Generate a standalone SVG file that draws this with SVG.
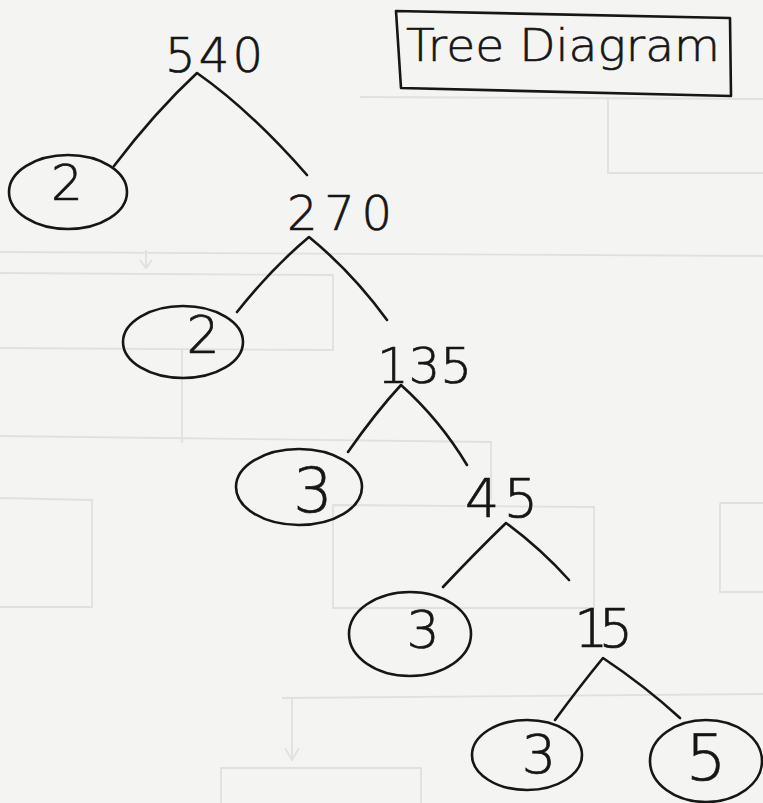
<svg xmlns="http://www.w3.org/2000/svg" width="763" height="803" viewBox="0 0 763 803">
  <style>
    .ink { fill: none; stroke: #161616; stroke-width: 2.6; stroke-linecap: round; stroke-linejoin: round; }
    .ghost { fill: none; stroke: #e0e0de; stroke-width: 1.8; }
    .num { font-family: "DejaVu Sans", "Liberation Sans", sans-serif; font-weight: 200; fill: #161616; stroke: #161616; stroke-width: 0.7; }
    .title { font-family: "DejaVu Sans", "Liberation Sans", sans-serif; font-weight: 200; fill: #161616; stroke: #161616; stroke-width: 0.6; font-size: 44px; }
  </style>

  <!-- paper -->
  <rect x="0" y="0" width="763" height="803" fill="#f4f4f2"/>

  <!-- faint lines showing through from the reverse side of the sheet -->
  <g id="paper-show-through" class="ghost">
    <path d="M360 97 L763 99"/>
    <path d="M608 97 L608 173 L763 173"/>
    <path d="M0 252 L763 256"/>
    <path d="M146 250 L146 268 M140 260 L146 268 L152 260"/>
    <path d="M0 273 L333 275 L333 350 L0 348"/>
    <path d="M182 350 L182 443"/>
    <path d="M0 436 L491 442 L491 500"/>
    <path d="M0 498 L92 500 L92 607 L0 607"/>
    <path d="M333 505 L594 507 L594 608 L333 608 Z"/>
    <path d="M720 503 L763 503 M720 503 L720 592 L763 592"/>
    <path d="M282 698 L763 694"/>
    <path d="M292 698 L292 760 M285 748 L292 760 L299 748"/>
    <path d="M221 803 L221 768 L421 768 L421 803"/>
  </g>

  <!-- title box -->
  <g id="title">
    <path class="ink" d="M396 11 L730 18 L731 96 L401 88 Z"/>
    <text class="title" x="406" y="61" textLength="314" lengthAdjust="spacingAndGlyphs">Tree Diagram</text>
  </g>

  <!-- branches -->
  <g id="connectors" class="ink">
    <path d="M114 166 Q155 112 197 73 Q250 110 307 175"/>
    <path d="M237 312 Q272 268 309 237 Q352 272 387 320"/>
    <path d="M348 452 Q376 412 401 385 Q440 420 467 465"/>
    <path d="M443 587 Q476 552 506 523 Q540 548 569 580"/>
    <path d="M555 720 Q580 686 603 658 Q645 686 680 718"/>
  </g>

  <!-- composite nodes -->
  <g id="n540"><text class="num" x="165" y="72" font-size="48" textLength="98" lengthAdjust="spacing">540</text></g>
  <g id="n270"><text class="num" x="287" y="230" font-size="48" textLength="105" lengthAdjust="spacing">270</text></g>
  <g id="n135"><text class="num" x="377" y="383" font-size="50" textLength="95" lengthAdjust="spacing">135</text></g>
  <g id="n45"><text class="num" x="465" y="517" font-size="54" textLength="73" lengthAdjust="spacing">45</text></g>
  <g id="n15"><text class="num" x="574" y="647" font-size="54" textLength="59" lengthAdjust="spacing">15</text></g>

  <!-- circled prime factors -->
  <g id="p2a">
    <ellipse class="ink" cx="68" cy="192" rx="59" ry="37"/>
    <text class="num" x="67" y="200" font-size="50" text-anchor="middle">2</text>
  </g>
  <g id="p2b">
    <ellipse class="ink" cx="183" cy="342" rx="60" ry="36"/>
    <text class="num" x="203" y="353" font-size="52" text-anchor="middle">2</text>
  </g>
  <g id="p3a">
    <ellipse class="ink" cx="299" cy="487" rx="63" ry="38"/>
    <text class="num" x="313" y="512" font-size="62" text-anchor="middle">3</text>
  </g>
  <g id="p3b">
    <ellipse class="ink" cx="410" cy="634" rx="61" ry="42"/>
    <text class="num" x="423" y="648" font-size="52" text-anchor="middle">3</text>
  </g>
  <g id="p3c">
    <ellipse class="ink" cx="527" cy="755" rx="55" ry="35"/>
    <text class="num" x="539" y="773" font-size="54" text-anchor="middle">3</text>
  </g>
  <g id="p5">
    <ellipse class="ink" cx="706" cy="761" rx="56" ry="41"/>
    <text class="num" x="706" y="780" font-size="64" text-anchor="middle">5</text>
  </g>
</svg>
